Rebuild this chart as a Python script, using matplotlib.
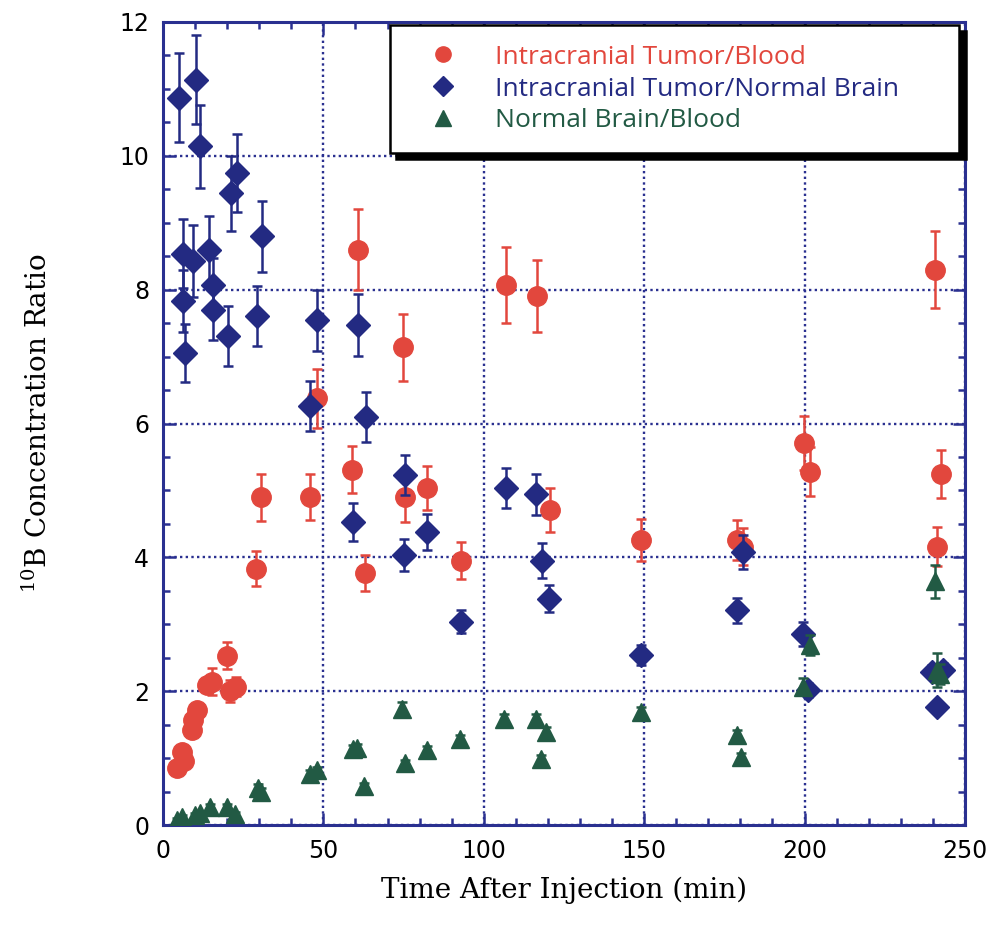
import matplotlib
matplotlib.use("Agg")
import matplotlib.pyplot as plt
from matplotlib.lines import Line2D
from matplotlib.ticker import MultipleLocator

# ── Data: 10B concentration ratios vs time after injection ───────────────────
tb_time = [4.4, 5.8, 6.5, 9.0, 9.5, 10.7, 13.6, 15.2, 19.9, 20.9, 22.8, 29.0,
           30.5, 45.7, 48.0, 59.0, 60.7, 63.1, 74.9, 75.4, 82.4, 92.8, 106.9,
           116.6, 120.7, 149.0, 178.8, 180.8, 199.9, 201.7, 240.6, 241.3, 242.6]
tb_ratio = [0.85, 1.09, 0.95, 1.42, 1.57, 1.72, 2.09, 2.14, 2.53, 2.0, 2.07, 3.83,
            4.9, 4.9, 6.38, 5.31, 8.6, 3.77, 7.14, 4.9, 5.04, 3.95, 8.07,
            7.9, 4.71, 4.26, 4.26, 4.16, 5.71, 5.28, 8.3, 4.16, 5.25]
tb_err = [0.05, 0.05, 0.05, 0.05, 0.05, 0.05, 0.1, 0.2, 0.2, 0.16, 0.14, 0.26,
          0.35, 0.34, 0.44, 0.35, 0.6, 0.27, 0.5, 0.37, 0.33, 0.28, 0.57,
          0.54, 0.33, 0.31, 0.3, 0.28, 0.4, 0.37, 0.58, 0.29, 0.36]

tn_time = [5.1, 10.2, 11.4, 23.2, 21.1, 30.8, 6.4, 9.5, 14.2, 15.5, 6.1, 15.7,
           6.9, 20.4, 29.3, 48.0, 60.7, 45.9, 63.4, 59.3, 75.6, 75.1, 82.4,
           92.8, 106.9, 116.3, 118.3, 120.4, 149.0, 178.8, 180.8, 199.6, 201.1,
           239.7, 243.3, 241.3]
tn_ratio = [10.87, 11.14, 10.14, 9.74, 9.44, 8.8, 8.54, 8.43, 8.6, 8.07, 7.83, 7.7,
            7.05, 7.31, 7.61, 7.54, 7.47, 6.26, 6.1, 4.53, 5.23, 4.04, 4.38,
            3.04, 5.04, 4.94, 3.95, 3.38, 2.54, 3.21, 4.08, 2.86, 2.02,
            2.29, 2.32, 1.76]
tn_err = [0.66, 0.66, 0.62, 0.58, 0.56, 0.53, 0.51, 0.54, 0.5, 0.4, 0.46, 0.45,
          0.43, 0.45, 0.45, 0.45, 0.46, 0.37, 0.37, 0.28, 0.3, 0.24, 0.27,
          0.17, 0.3, 0.3, 0.26, 0.2, 0.15, 0.19, 0.25, 0.18, 0.1,
          0.1, 0.1, 0.08]

nb_time = [4.3, 5.8, 10.0, 11.6, 14.7, 19.9, 22.5, 29.5, 30.5, 45.9, 48.0, 59.3,
           60.5, 62.8, 74.4, 75.3, 82.2, 92.6, 106.4, 116.3, 117.8, 119.4,
           149.0, 178.8, 180.3, 199.6, 201.7, 240.7, 241.3, 242.3]
nb_ratio = [0.07, 0.12, 0.15, 0.18, 0.27, 0.27, 0.17, 0.55, 0.5, 0.77, 0.82, 1.13,
            1.15, 0.58, 1.74, 0.92, 1.12, 1.29, 1.59, 1.59, 0.99, 1.39,
            1.69, 1.35, 1.02, 2.07, 2.69, 3.64, 2.32, 2.26]
nb_err = [0.03, 0.03, 0.03, 0.03, 0.05, 0.05, 0.03, 0.06, 0.05, 0.05, 0.05, 0.06,
          0.06, 0.05, 0.1, 0.05, 0.06, 0.06, 0.07, 0.07, 0.05, 0.07,
          0.08, 0.07, 0.05, 0.12, 0.15, 0.25, 0.25, 0.15]

labels = ["Intracranial Tumor/Blood", "Intracranial Tumor/Normal Brain",
          "Normal Brain/Blood"]

RED = "#e2473d"
NAVY = "#232a82"
GREEN = "#225a44"
FRAME = "#2a3090"

plt.rcParams["mathtext.fontset"] = "custom"
plt.rcParams["mathtext.rm"] = "DejaVu Serif"

fig = plt.figure(figsize=(9.9, 9.35), dpi=100)
ax = fig.add_axes([0.1646, 0.1176, 0.8101, 0.8589])

err_kw = dict(linestyle="none", elinewidth=1.8, capsize=3.6, capthick=1.8)
ax.errorbar(tb_time, tb_ratio, yerr=tb_err, fmt="o", color=RED, ms=14,
            zorder=3, **err_kw)
ax.errorbar(tn_time, tn_ratio, yerr=tn_err, fmt="D", color=NAVY, ms=12,
            zorder=4, **err_kw)
ax.errorbar(nb_time, nb_ratio, yerr=nb_err, fmt="^", color=GREEN, ms=13,
            zorder=5, **err_kw)

ax.set_xlim(0, 250)
ax.set_ylim(0, 12)
ax.xaxis.set_major_locator(MultipleLocator(50))
ax.xaxis.set_minor_locator(MultipleLocator(10))
ax.yaxis.set_major_locator(MultipleLocator(2))
ax.yaxis.set_minor_locator(MultipleLocator(0.5))

ax.grid(True, which="major", color=FRAME, linestyle=(0, (1, 1.4)), linewidth=1.7)
ax.set_axisbelow(True)
for s in ax.spines.values():
    s.set_color(FRAME)
    s.set_linewidth(2.2)
ax.tick_params(which="both", direction="in", top=True, right=True,
               color=FRAME, width=1.8, labelsize=17, pad=10)
ax.tick_params(which="major", length=9)
ax.tick_params(which="minor", length=5)
for lab in ax.get_xticklabels() + ax.get_yticklabels():
    lab.set_fontfamily("DejaVu Sans")

ax.set_xlabel("Time After Injection (min)", fontsize=20, family="DejaVu Serif",
              labelpad=10)
ax.set_ylabel(r"$^{10}$B Concentration Ratio", fontsize=20, family="DejaVu Serif",
              labelpad=48)

# legend: markers only, no error bars
handles = [Line2D([], [], marker="o", ls="none", color=RED, ms=11),
           Line2D([], [], marker="D", ls="none", color=NAVY, ms=10),
           Line2D([], [], marker="^", ls="none", color=GREEN, ms=11)]
leg = ax.legend(handles, labels, loc="upper right", mode="expand",
                bbox_to_anchor=(0.283, 0.70, 0.71, 0.2963),
                frameon=True, fancybox=False,
                shadow={"ox": 4.5, "oy": -4.5, "color": "black", "alpha": 1},
                borderaxespad=0, handletextpad=0.72, labelspacing=0.26,
                borderpad=0.75, handlelength=2.5,
                prop={"family": "Open Sans", "size": 19})
leg.get_frame().set_edgecolor("black")
leg.get_frame().set_linewidth(1.8)
for txt, c in zip(leg.get_texts(), [RED, NAVY, GREEN]):
    txt.set_color(c)

fig.savefig("out.png", dpi=100)
